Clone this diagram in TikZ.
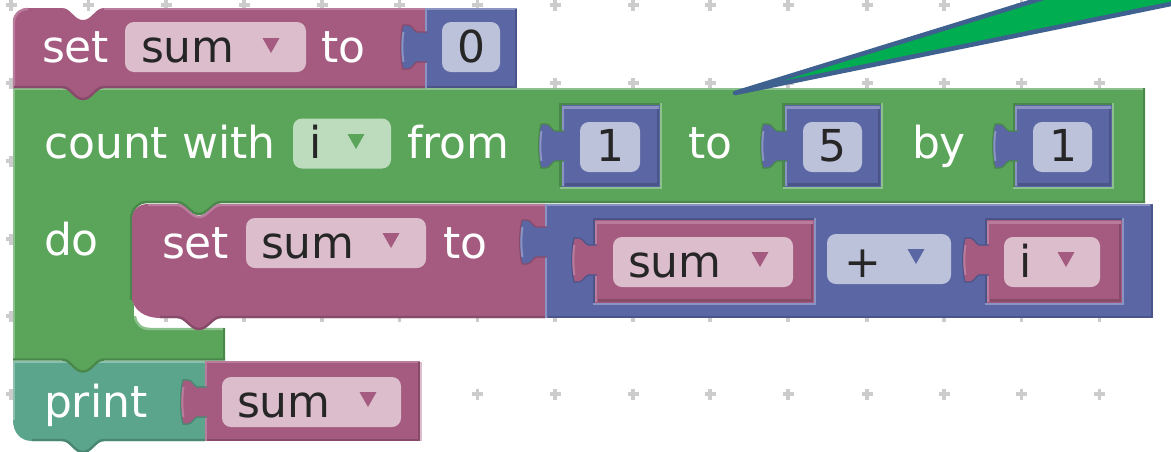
\documentclass[tikz,border=0pt]{standalone}
\usepackage{fontspec}
\setmainfont{DejaVu Sans}
\definecolor{mar}{HTML}{A55B80}\definecolor{marL}{HTML}{B97C9C}\definecolor{marD}{HTML}{874A69}\definecolor{marF}{HTML}{DBBDCC}
\definecolor{blu}{HTML}{5B67A5}\definecolor{bluL}{HTML}{8A93C2}\definecolor{bluD}{HTML}{4A5488}\definecolor{bluF}{HTML}{BDC2DB}
\definecolor{grn}{HTML}{5BA55B}\definecolor{grnL}{HTML}{8CC08C}\definecolor{grnD}{HTML}{4A874A}\definecolor{grnF}{HTML}{BDDBBD}
\definecolor{tea}{HTML}{5BA58C}\definecolor{teaL}{HTML}{8CC0AE}\definecolor{teaD}{HTML}{4A8773}
\definecolor{dotc}{HTML}{CCCCCC}
\definecolor{callf}{HTML}{00AD50}\definecolor{calls}{HTML}{3E6190}
\tikzset{
  lab/.style={inner sep=0pt,outer sep=0pt,font=\fontsize{44}{50}\selectfont,text=white,anchor=base west},
  dark/.style={lab,text=black!85},
  darkc/.style={dark,anchor=base},
  fieldbox/.style={inner sep=0pt,outer sep=0pt,rounded corners=9pt,anchor=north west,minimum height=50pt},
  hi/.style={line width=2.4pt,line cap=butt},
  arm/.style={line width=3.2pt,dotc}
}
% notch going rightwards / leftwards along a horizontal edge
\newcommand\notchR[2]{-- (#1-21,#2) .. controls (#1-12,#2) and (#1-9,#2+12) .. (#1,#2+12) .. controls (#1+9,#2+12) and (#1+12,#2) .. (#1+21,#2)}
\newcommand\notchL[2]{-- (#1+21,#2) .. controls (#1+12,#2) and (#1+9,#2+12) .. (#1,#2+12) .. controls (#1-9,#2+12) and (#1-12,#2) .. (#1-21,#2)}
% tab: left x of head, edge x, centre y, colour prefix, host dark colour
\newcommand\tabshape[5]{%
  \draw[fill=#4,draw=#5,line width=1.2pt] (#2+2,#3-15) -- (#1+17,#3-15) .. controls (#1+13,#3-17) and (#1+12,#3-22) .. (#1+8,#3-22) -- (#1+3,#3-22)
     .. controls (#1,#3-12) and (#1,#3+12) .. (#1+3,#3+22) -- (#1+8,#3+22) .. controls (#1+12,#3+22) and (#1+13,#3+17) .. (#1+17,#3+15) -- (#2+2,#3+15);
  \fill[#4] (#2-2,#3-14) rectangle (#2+2,#3+14);
  \draw[#4L,line width=2pt] (#1+3.5,#3-15) .. controls (#1+2,#3-8) and (#1+2,#3+8) .. (#1+3.5,#3+15);
}
% inset value block: x1,y1,x2,y2,colour,host
\newcommand\inset[6]{%
  \fill[#5] (#1,#2) rectangle (#3,#4);
  \draw[hi,#5L] (#1+1.2,#4-1) -- (#1+1.2,#2+2.5) -- (#3-1,#2+2.5);
  \draw[hi,#5D] (#1+3,#4-2.5) -- (#3-2.2,#4-2.5) -- (#3-2.2,#2+3.5);
  \draw[hi,#6D] (#1-1.2,#4) -- (#1-1.2,#2-1.2) -- (#3+1,#2-1.2);
  \draw[hi,#6L] (#1-2,#4+1.2) -- (#3+1.2,#4+1.2) -- (#3+1.2,#2-2);
}
\newcommand\tri[3]{\fill[#3] (#1-8.5,#2) -- (#1+8.5,#2) -- (#1,#2+15) -- cycle;}
\begin{document}
\begin{tikzpicture}[x=1pt,y=-1pt]
\useasboundingbox (0,0) rectangle (1171,451);
\begin{scope}
\clip (0,0) rectangle (1171,451);
% grid of plus marks
\foreach \gx in {11,88.6,166,244,322,399.6,477.5,555,633,710,788,867,944,1021.6,1099.6}
 \foreach \gy in {5,83,161,239,316,394}
  {\draw[arm] (\gx-5.5,\gy) -- (\gx+5.5,\gy); \draw[arm] (\gx,\gy-5.5) -- (\gx,\gy+5.5);}

% print block
\fill[tea] (13,361) -- (205,361) -- (205,441) \notchL{83}{441} -- (32,441) .. controls (20,441) and (13,432) .. (13,420) -- cycle;
\draw[hi,teaL] (13,362) -- (205,362);
\draw[hi,teaD] (205,440) \notchL{83}{440} -- (32,440);
\draw[hi,teaL] (14,362) -- (14,420);

% green block
\fill[grn] (13,88) -- (1145,88) -- (1145,203) -- (221,203) .. controls (212,203) and (208,215) .. (199,215) .. controls (190,215) and (186,203) .. (177,203) -- (147,203) .. controls (138,203) and (132,210) .. (132,219)
  -- (134,316) .. controls (135,324) and (141,328) .. (150,328) -- (225,328) -- (225,360) \notchL{83}{360} -- (13,360) -- cycle;
\draw[hi,grnL] (13,89.2) -- (1145,89.2);
\draw[hi,grnL] (14.2,88) -- (14.2,360);
\draw[hi,grnD] (1144,88) -- (1144,203);
\draw[hi,grnD] (1145,202) -- (221,202) .. controls (212,202) and (208,214) .. (199,214) .. controls (190,214) and (186,202) .. (177,202) -- (147,202) .. controls (138,202) and (131,210) .. (131,219) -- (131,300);
\draw[hi,grnL] (135,316) .. controls (136,324) and (141,329) .. (150,329) -- (225,329);
\draw[hi,grnD] (224,328) -- (224,360);
\draw[hi,grnD] (225,359.5) \notchL{83}{359.5} -- (13,359.5);

% set sum to 0
\tabshape{400}{425}{47}{blu}{marD}
\fill[mar] (13,88) -- (13,22) .. controls (13,14) and (20,8) .. (28,8) \notchR{83}{8} -- (425,8) -- (425,88) \notchL{83}{88} -- cycle;
\draw[hi,marL] (14,88) -- (14,22) .. controls (14,14) and (20,9) .. (28,9);
\draw[hi,marL] (104,9) -- (425,9);
\draw[hi,marD] (425,87) -- (104,87) .. controls (95,87) and (92,99) .. (83,99) .. controls (74,99) and (71,87) .. (62,87) -- (14,87);
\fill[blu] (425,8) rectangle (517,88);
\draw[hi,bluL] (426.2,88) -- (426.2,9) -- (517,9);
\draw[hi,bluD] (516,9) -- (516,87) -- (427,87);
\tabshape{400}{425}{47}{blu}{marD}

% set sum to (inner)
\fill[mar] (132,318) -- (132,219) .. controls (132,210) and (139,204) .. (148,204) \notchR{199}{204} -- (545,204) -- (545,318) \notchL{199}{318} -- (160,318) .. controls (145,318) and (132,310) .. (132,296) -- cycle;
\draw[hi,marL] (545,205) -- (221,205) .. controls (212,205) and (208,217) .. (199,217) .. controls (190,217) and (186,205) .. (177,205) -- (148,205);
\draw[hi,marD] (545,317) -- (221,317) .. controls (212,317) and (208,329) .. (199,329) .. controls (190,329) and (186,317) .. (177,317) -- (160,317);
\fill[blu] (545,204) rectangle (1153,318);
\draw[hi,bluL] (546.2,318) -- (546.2,205) -- (1150,205);
\draw[hi,bluD] (1152,205) -- (1152,317) -- (548,317);
\tabshape{519}{545}{242}{blu}{marD}

% print sum
\tabshape{180}{205}{402}{mar}{teaD}
\fill[mar] (205,361) rectangle (420,441);
\draw[hi,marL] (206.2,441) -- (206.2,362) -- (420,362);
\draw[hi,marD] (419,362) -- (419,440) -- (207,440);
\draw[line width=1.4pt,marF] (420.8,362) -- (420.8,441);
\tabshape{180}{205}{402}{mar}{teaD}

% value blocks in the count row
\inset{561.5}{105}{660}{187}{blu}{grn}\tabshape{538}{562}{146}{blu}{grnD}
\inset{784.5}{105}{881}{187}{blu}{grn}\tabshape{760}{785}{146}{blu}{grnD}
\inset{1015}{105}{1112}{187}{blu}{grn}\tabshape{992}{1016}{146}{blu}{grnD}

% operands
\inset{595}{220}{814}{303}{mar}{blu}\tabshape{571}{595}{260}{mar}{bluD}
\inset{987}{220}{1122}{303}{mar}{blu}\tabshape{962}{987}{260}{mar}{bluD}

% fields
\node[fieldbox,fill=marF,minimum width=181pt] (fsum1) at (125,22) {};
\node[fieldbox,fill=bluF,minimum width=58pt] (fzero) at (442,22) {};
\node[fieldbox,fill=grnF,minimum width=98pt] (fi) at (293,118.5) {};
\node[fieldbox,fill=bluF,minimum width=60pt] (fone) at (580,122) {};
\node[fieldbox,fill=bluF,minimum width=59pt] (ffive) at (803,122) {};
\node[fieldbox,fill=bluF,minimum width=59pt] (fby) at (1033,122) {};
\node[fieldbox,fill=marF,minimum width=180pt] (fsum2) at (246,218) {};
\node[fieldbox,fill=marF,minimum width=180pt] (fsum3) at (613,237) {};
\node[fieldbox,fill=bluF,minimum width=124pt] (fplus) at (827,234) {};
\node[fieldbox,fill=marF,minimum width=96pt] (fi2) at (1004,237) {};
\node[fieldbox,fill=marF,minimum width=179pt] (fsum4) at (222,377) {};

% dropdown arrows
\tri{271}{38}{mar}\tri{356}{134}{grn}\tri{391}{233}{mar}\tri{760}{252}{mar}\tri{916}{249}{blu}\tri{1066}{252}{mar}\tri{368}{392}{mar}

% labels
\node[lab] (tset1) at (42,62) {set};
\node[dark] (tsum1) at (141,62) {sum};
\node[lab] (tto1) at (321,62) {to};
\node[darkc] (tzero) at (471,62) {0};
\node[lab] (tcount) at (44,158) {count with};
\node[dark] (ti) at (309,158) {i};
\node[lab] (tfrom) at (407,158) {from};
\node[darkc] (tone) at (610.5,161) {1};
\node[lab] (tto2) at (688,158) {to};
\node[darkc] (tfive) at (832,161) {5};
\node[lab] (tby) at (912,158) {by};
\node[darkc] (tone2) at (1063,161) {1};
\node[lab] (tdo) at (44,255) {do};
\node[lab] (tset2) at (162,258) {set};
\node[dark] (tsum2) at (261,258) {sum};
\node[lab] (tto3) at (443,258) {to};
\node[dark] (tsum3) at (628,277) {sum};
\node[darkc] (tplus) at (863,277) {+};
\node[dark] (ti2) at (1019,277) {i};
\node[lab] (tprint) at (44,417) {print};
\node[dark] (tsum4) at (237,417) {sum};

% callout
\draw[fill=callf,draw=calls,line width=4.6pt,line join=round,line cap=round] (735,93) -- (1056,-6) -- (1200,-6) -- (1200,-2) -- cycle;
\end{scope}
\end{tikzpicture}
\end{document}
